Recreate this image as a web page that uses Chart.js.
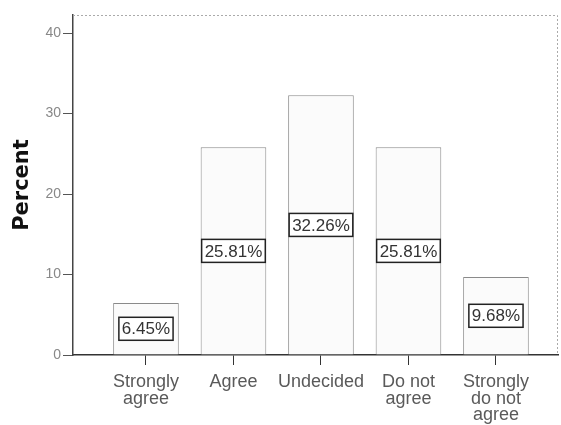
<!DOCTYPE html>
<html>
<head>
<meta charset="utf-8">
<script src="https://cdn.jsdelivr.net/npm/chart.js@4"></script>
<style>
  body { margin: 0; background: #fff; }
</style>
</head>
<body>
<canvas id="percentChart" width="561" height="425"></canvas>
<script>
// data
const categories = [['Strongly', 'agree'], ['Agree'], ['Undecided'], ['Do not', 'agree'], ['Strongly', 'do not', 'agree']];
const percents = [6.45, 25.81, 32.26, 25.81, 9.68];
const yTicks = [0, 10, 20, 30, 40];

// box with the percent value in the middle of each bar
const valueBoxes = {
    id: 'valueBoxes',
    afterDatasetsDraw(chart) {
        const ctx = chart.ctx;
        const meta = chart.getDatasetMeta(0);
        ctx.save();
        ctx.font = '17px "Liberation Sans", Arial, sans-serif';
        meta.data.forEach((bar, i) => {
            const txt = percents[i].toFixed(2) + '%';
            const cy = (bar.y + bar.base) / 2;
            const w = ctx.measureText(txt).width + 6;
            const h = 23;
            ctx.fillStyle = '#fff';
            ctx.fillRect(bar.x - w / 2, cy - h / 2, w, h);
            ctx.strokeStyle = '#222';
            ctx.lineWidth = 1.5;
            ctx.strokeRect(bar.x - w / 2, cy - h / 2, w, h);
            ctx.fillStyle = '#333';
            ctx.textAlign = 'center';
            ctx.textBaseline = 'middle';
            ctx.fillText(txt, bar.x, cy + 1);
        });
        ctx.restore();
    }
};

// dotted top and right edges of the plot frame
const frame = {
    id: 'frame',
    beforeDatasetsDraw(chart) {
        const { ctx, chartArea: a } = chart;
        ctx.save();
        ctx.strokeStyle = '#aaa';
        ctx.lineWidth = 1;
        ctx.setLineDash([2, 2]);
        ctx.beginPath();
        ctx.moveTo(a.left, a.top + 0.5);
        ctx.lineTo(a.right - 0.5, a.top + 0.5);
        ctx.lineTo(a.right - 0.5, a.bottom);
        ctx.stroke();
        ctx.restore();
    }
};

new Chart(document.getElementById('percentChart'), {
    type: 'bar',
    data: {
        datasets: [{
            data: percents.map((v, i) => ({ x: i, y: v })),
            backgroundColor: '#fbfbfb',
            borderColor: '#8a8a8a',
            borderWidth: 1,
            categoryPercentage: 0.75,
            barPercentage: 1
        }]
    },
    options: {
        responsive: false,
        animation: false,
        layout: { padding: { top: 15, right: 3, left: 0, bottom: 0 } },
        plugins: { legend: { display: false }, tooltip: { enabled: false } },
        scales: {
            x: {
                type: 'linear',
                offset: false,
                min: -0.834,
                max: 4.709,
                afterBuildTicks: s => { s.ticks = categories.map((c, i) => ({ value: i })); },
                afterFit: s => { s.height = 70; },
                grid: { offset: false, drawOnChartArea: false, drawTicks: true, tickLength: 10, color: '#333' },
                border: { display: true, color: '#333', width: 1.5 },
                ticks: {
                    autoSkip: false,
                    maxRotation: 0,
                    padding: 9,
                    color: '#5a5a5a',
                    font: { family: '"Liberation Sans", Arial, sans-serif', size: 18, lineHeight: 0.92 },
                    callback: v => categories[v]
                }
            },
            y: {
                min: 0,
                max: 42.24,
                afterBuildTicks: s => { s.ticks = yTicks.map(v => ({ value: v })); },
                afterFit: s => { s.width = 73; },
                grid: { drawOnChartArea: false, drawTicks: true, tickLength: 10, color: '#555' },
                border: { display: true, color: '#444', width: 1.5 },
                ticks: {
                    padding: 2,
                    color: '#888',
                    font: { family: '"Liberation Sans", Arial, sans-serif', size: 14 }
                },
                title: {
                    display: true,
                    text: 'Percent',
                    color: '#111',
                    padding: { top: 10, bottom: 0 },
                    font: { family: '"DejaVu Sans", Verdana, sans-serif', size: 21, weight: 'bold' }
                }
            }
        }
    },
    plugins: [frame, valueBoxes]
});
</script>
</body>
</html>
